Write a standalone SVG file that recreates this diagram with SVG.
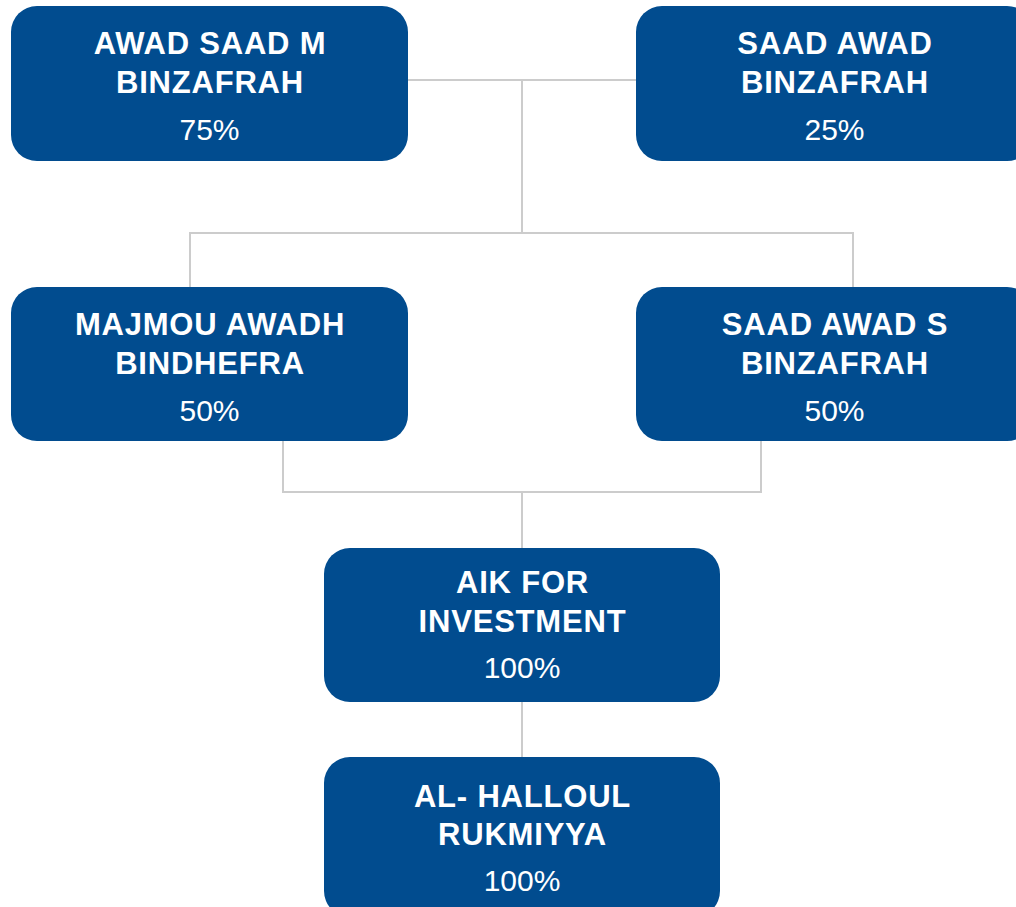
<svg xmlns="http://www.w3.org/2000/svg" width="1016" height="907" viewBox="0 0 1016 907">
<style>
.box{fill:#014c8f}
.nm{font-family:"Liberation Sans",Arial,sans-serif;font-weight:bold;font-size:31px;letter-spacing:0.8px;fill:#ffffff;text-anchor:middle}
.pc{font-family:"Liberation Sans",Arial,sans-serif;font-size:30px;fill:#ffffff;text-anchor:middle}
.ln{fill:none;stroke:#cccccc;stroke-width:2}
</style>
<rect width="1016" height="907" fill="#ffffff"/>
<g id="connectors">
<path class="ln" d="M408,80 H636 M522,80 V233 M190,287 V233 H853 V287"/>
<path class="ln" d="M283,441 V492 H761 V441 M522,492 V548"/>
<path class="ln" d="M522,702 V757"/>
</g>
<g id="awad-saad-m">
<rect class="box" x="11" y="6" width="397" height="155" rx="26"/>
<text class="nm" x="210" y="54">AWAD SAAD M</text>
<text class="nm" x="210" y="93">BINZAFRAH</text>
<text class="pc" x="209.5" y="140">75%</text>
</g>
<g id="saad-awad">
<rect class="box" x="636" y="6" width="397" height="155" rx="26"/>
<text class="nm" x="835" y="54">SAAD AWAD</text>
<text class="nm" x="835" y="93">BINZAFRAH</text>
<text class="pc" x="834.5" y="140">25%</text>
</g>
<g id="majmou">
<rect class="box" x="11" y="287" width="397" height="154" rx="26"/>
<text class="nm" x="210" y="335">MAJMOU AWADH</text>
<text class="nm" x="210" y="374">BINDHEFRA</text>
<text class="pc" x="209.5" y="421">50%</text>
</g>
<g id="saad-awad-s">
<rect class="box" x="636" y="287" width="397" height="154" rx="26"/>
<text class="nm" x="835" y="335">SAAD AWAD S</text>
<text class="nm" x="835" y="374">BINZAFRAH</text>
<text class="pc" x="834.5" y="421">50%</text>
</g>
<g id="aik">
<rect class="box" x="324" y="548" width="396" height="154" rx="26"/>
<text class="nm" x="522.5" y="593">AIK FOR</text>
<text class="nm" x="522.5" y="632">INVESTMENT</text>
<text class="pc" x="522" y="678">100%</text>
</g>
<g id="al-halloul">
<rect class="box" x="324" y="757" width="396" height="160" rx="26"/>
<text class="nm" x="522.5" y="807">AL- HALLOUL</text>
<text class="nm" x="522.5" y="845">RUKMIYYA</text>
<text class="pc" x="522" y="891">100%</text>
</g>
</svg>
